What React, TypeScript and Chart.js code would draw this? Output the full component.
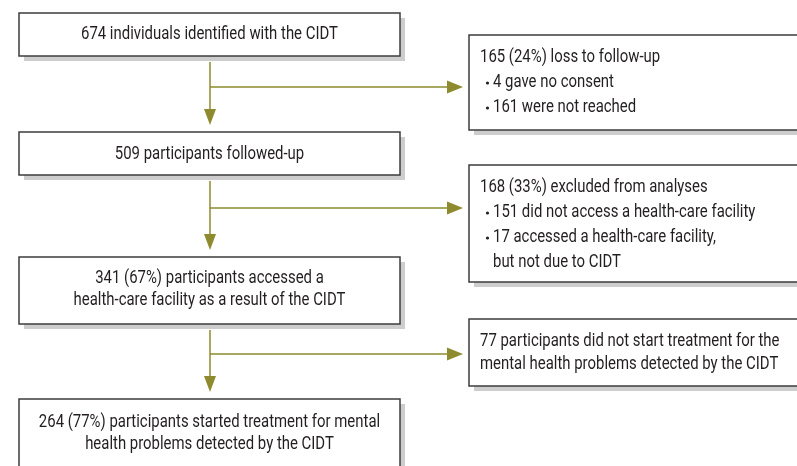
import React, { useEffect, useRef } from "react";
import { Chart, registerables } from "chart.js";

Chart.register(...registerables);

// ---- content ----
const mainBoxLines: string[][] = [
  ["674 individuals identified with the CIDT"],
  ["509 participants followed-up"],
  ["341 (67%) participants accessed a", "health-care facility as a result of the CIDT"],
  ["264 (77%) participants started treatment for mental", "health problems detected by the CIDT"],
];

const sideBoxTitles: string[] = [
  "165 (24%) loss to follow-up",
  "168 (33%) excluded from analyses",
  "77 participants did not start treatment for the",
];
const sideBoxBullets: string[][] = [
  ["4 gave no consent", "161 were not reached"],
  ["151 did not access a health-care facility", "17 accessed a health-care facility,"],
  [],
];
const sideBoxExtra: string[][] = [
  [],
  ["but not due to CIDT"],
  ["mental health problems detected by the CIDT"],
];

// ---- layout (canvas units) ----
const W = 797;
const H = 466;
const mainX: [number, number] = [19, 400];
const mainY: [number, number][] = [[13, 56], [132, 175], [257, 324], [399, 472]];
const mainTextY: number[][] = [[34], [154], [278, 300], [422, 444]];
const sideX: [number, number] = [469, 799];
const sideY: [number, number][] = [[35, 130], [165, 282], [319, 386]];
const sideTextY: number[][] = [[57, 82, 107], [187, 212, 237, 262], [341, 364]];
const stemX = 210;
const branchY = [87, 208, 354];
const arrowTipX = 463;

const OLIVE = "#8d8b2e";
const BORDER = "#3c3c3c";
const SHADOW = "#cdcdcd";
const TEXT = "#231f20";
const FONT = "18px Roboto, 'Noto Sans', sans-serif";

export default function App() {
  const ref = useRef<HTMLCanvasElement | null>(null);

  useEffect(() => {
    document.body.style.margin = "0";
    const canvas = ref.current;
    if (!canvas) return;

    const connectors: any[] = [];
    for (let i = 0; i < 3; i++) {
      connectors.push({
        data: [
          { x: stemX, y: mainY[i][1] + 6 },
          { x: stemX, y: mainY[i + 1][0] - 14 },
        ],
      });
      connectors.push({
        data: [
          { x: stemX, y: branchY[i] },
          { x: arrowTipX - 12, y: branchY[i] },
        ],
      });
    }

    const flowPlugin = {
      id: "flow",
      afterDatasetsDraw(chart: any) {
        const ctx: CanvasRenderingContext2D = chart.ctx;
        const xs = chart.scales.x;
        const ys = chart.scales.y;
        const px = (v: number) => xs.getPixelForValue(v);
        const py = (v: number) => ys.getPixelForValue(v);

        ctx.save();
        ctx.font = FONT;
        const refW = ctx.measureText(mainBoxLines[0][0]).width;
        const sx = 257 / refW;

        const box = (x0: number, x1: number, y0: number, y1: number) => {
          const a = px(x0), b = px(x1), c = py(y0), d = py(y1);
          ctx.fillStyle = SHADOW;
          ctx.fillRect(a + 5, c + 5, b - a, d - c);
          ctx.fillStyle = "#ffffff";
          ctx.fillRect(a, c, b - a, d - c);
          ctx.strokeStyle = BORDER;
          ctx.lineWidth = 1.5;
          ctx.strokeRect(a, c, b - a, d - c);
        };

        const text = (t: string, x: number, y: number, align: CanvasTextAlign) => {
          ctx.save();
          ctx.translate(px(x), py(y));
          ctx.scale(sx, 1);
          ctx.textAlign = align;
          ctx.textBaseline = "middle";
          ctx.fillStyle = TEXT;
          ctx.font = FONT;
          ctx.fillText(t, 0, 0);
          ctx.restore();
        };

        // main boxes
        mainBoxLines.forEach((lines, i) => {
          box(mainX[0], mainX[1], mainY[i][0], mainY[i][1]);
          const cx = (mainX[0] + mainX[1]) / 2;
          lines.forEach((l, j) => text(l, cx, mainTextY[i][j], "center"));
        });

        // side boxes
        sideBoxTitles.forEach((title, i) => {
          box(sideX[0], sideX[1], sideY[i][0], sideY[i][1]);
          let k = 0;
          text(title, 480, sideTextY[i][k++], "left");
          sideBoxBullets[i].forEach((b) => {
            const y = sideTextY[i][k++];
            ctx.fillStyle = TEXT;
            ctx.beginPath();
            ctx.arc(px(487.5), py(y + 1), 1.6, 0, Math.PI * 2);
            ctx.fill();
            text(b, 493, y, "left");
          });
          sideBoxExtra[i].forEach((e) => {
            text(e, sideBoxBullets[i].length ? 493 : 480, sideTextY[i][k++], "left");
          });
        });

        // arrowheads
        ctx.fillStyle = OLIVE;
        for (let i = 0; i < 3; i++) {
          const tipY = mainY[i + 1][0] - 7;
          ctx.beginPath();
          ctx.moveTo(px(stemX - 6), py(tipY - 16));
          ctx.lineTo(px(stemX + 6), py(tipY - 16));
          ctx.lineTo(px(stemX), py(tipY));
          ctx.closePath();
          ctx.fill();

          ctx.beginPath();
          ctx.moveTo(px(arrowTipX - 16), py(branchY[i] - 6.5));
          ctx.lineTo(px(arrowTipX - 16), py(branchY[i] + 6.5));
          ctx.lineTo(px(arrowTipX), py(branchY[i]));
          ctx.closePath();
          ctx.fill();
        }
        ctx.restore();
      },
    };

    const chart = new Chart(canvas, {
      type: "scatter",
      data: {
        datasets: connectors.map((c) => ({
          data: c.data,
          showLine: true,
          borderColor: OLIVE,
          borderWidth: 1.5,
          pointRadius: 0,
          pointHoverRadius: 0,
          fill: false,
        })),
      },
      options: {
        responsive: false,
        animation: false,
        events: [],
        layout: { padding: 0 },
        plugins: { legend: { display: false }, tooltip: { enabled: false } },
        scales: {
          x: { type: "linear", min: 0, max: W, display: false },
          y: { type: "linear", min: 0, max: H, reverse: true, display: false },
        },
      },
      plugins: [flowPlugin],
    });
    return () => chart.destroy();
  }, []);

  return (
    <div style={{ width: W, height: H, background: "#fff" }}>
      <canvas ref={ref} width={W} height={H} style={{ display: "block", width: W, height: H }} />
    </div>
  );
}
